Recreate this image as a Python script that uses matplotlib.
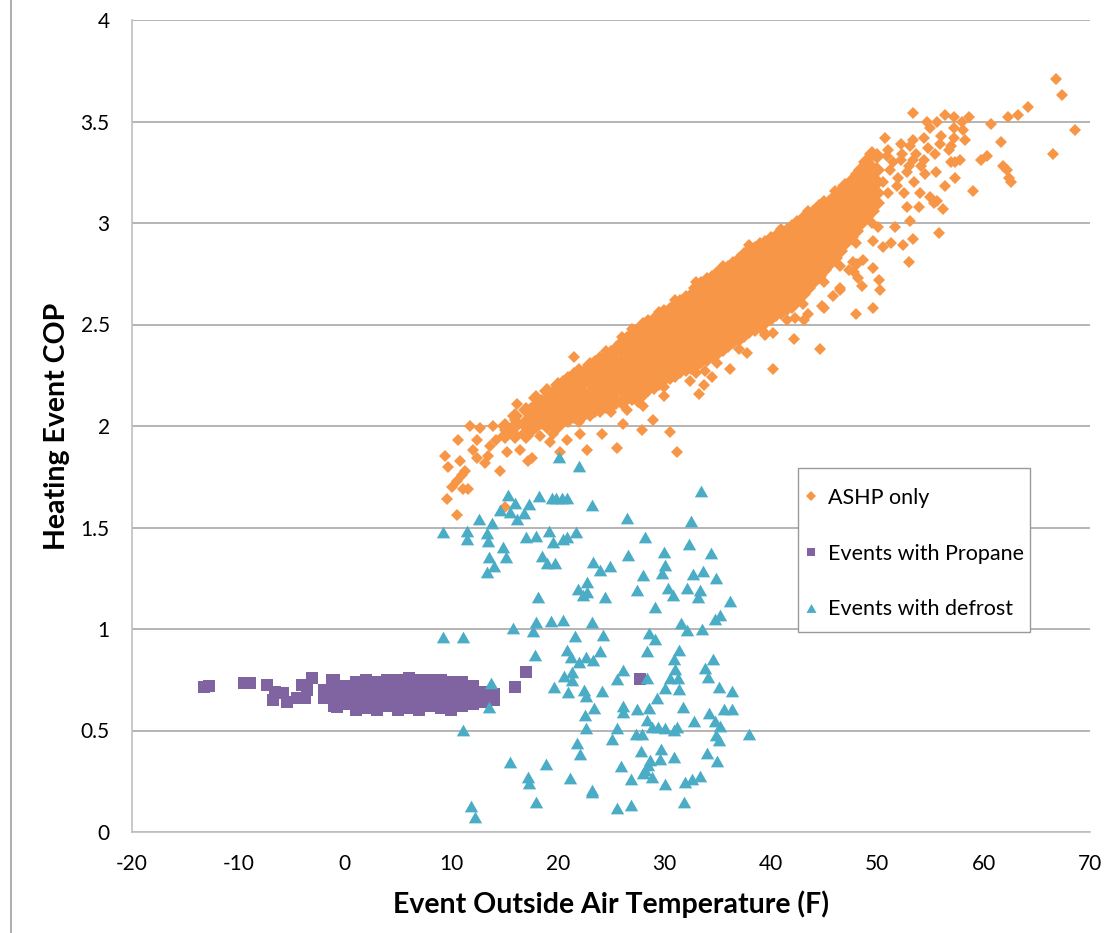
import matplotlib
matplotlib.use("Agg")
import matplotlib.pyplot as plt
from matplotlib.lines import Line2D
from matplotlib.patches import Rectangle

plt.rcParams['font.family'] = ['Lato', 'DejaVu Sans']
plt.rcParams['axes.unicode_minus'] = False

# --- data ------------------------------------------------------------------
# ASHP only: main band, (temperature, COP values stacked at that temperature)
band_columns = [
    (15, [1.95, 2.00]),
    (16, [1.95, 2.00, 2.05]),
    (17, [1.95, 2.02, 2.08]),
    (17.5, [1.98, 2.03, 2.08]),
    (18, [2.00, 2.05, 2.10, 2.14]),
    (18.5, [2.02, 2.07, 2.12]),
    (19, [2.02, 2.07, 2.12, 2.17]),
    (19.5, [2.01, 2.06, 2.11, 2.16]),
    (20, [2.00, 2.05, 2.10, 2.15, 2.20]),
    (20.5, [2.03, 2.08, 2.13, 2.18, 2.21]),
    (21, [2.03, 2.08, 2.13, 2.18, 2.23]),
    (21.5, [2.05, 2.10, 2.15, 2.20, 2.25]),
    (22, [2.04, 2.09, 2.14, 2.19, 2.24, 2.27]),
    (22.5, [2.06, 2.11, 2.16, 2.21, 2.26]),
    (23, [2.06, 2.11, 2.16, 2.21, 2.26, 2.30]),
    (23.5, [2.08, 2.13, 2.18, 2.23, 2.28, 2.31]),
    (24, [2.08, 2.13, 2.18, 2.23, 2.28, 2.33]),
    (24.5, [2.10, 2.15, 2.20, 2.25, 2.30, 2.34]),
    (25, [2.10, 2.15, 2.20, 2.25, 2.30, 2.36]),
    (25.5, [2.12, 2.17, 2.22, 2.27, 2.32, 2.38]),
    (26, [2.12, 2.17, 2.22, 2.27, 2.32, 2.37, 2.41]),
    (26.5, [2.14, 2.19, 2.24, 2.29, 2.34, 2.39, 2.43]),
    (27, [2.14, 2.19, 2.24, 2.29, 2.34, 2.39, 2.45]),
    (27.5, [2.16, 2.21, 2.26, 2.31, 2.36, 2.41, 2.47]),
    (28, [2.16, 2.21, 2.26, 2.31, 2.36, 2.41, 2.46, 2.50]),
    (28.5, [2.18, 2.23, 2.28, 2.33, 2.38, 2.43, 2.48, 2.51]),
    (29, [2.19, 2.24, 2.29, 2.34, 2.39, 2.44, 2.49, 2.52]),
    (29.5, [2.21, 2.26, 2.31, 2.36, 2.41, 2.46, 2.51, 2.54]),
    (30, [2.23, 2.28, 2.33, 2.38, 2.43, 2.48, 2.53, 2.56]),
    (30.5, [2.24, 2.29, 2.34, 2.39, 2.44, 2.49, 2.54, 2.57]),
    (31, [2.25, 2.30, 2.35, 2.40, 2.45, 2.50, 2.55, 2.59]),
    (31.5, [2.27, 2.32, 2.37, 2.42, 2.47, 2.52, 2.57, 2.61]),
    (32, [2.28, 2.33, 2.38, 2.43, 2.48, 2.53, 2.58, 2.63]),
    (32.5, [2.29, 2.34, 2.39, 2.44, 2.49, 2.54, 2.59, 2.64]),
    (33, [2.30, 2.35, 2.40, 2.45, 2.50, 2.55, 2.60, 2.65, 2.68]),
    (33.5, [2.32, 2.37, 2.42, 2.47, 2.52, 2.57, 2.62, 2.67, 2.70]),
    (34, [2.33, 2.38, 2.43, 2.48, 2.53, 2.58, 2.63, 2.68, 2.72]),
    (34.5, [2.35, 2.40, 2.45, 2.50, 2.55, 2.60, 2.65, 2.70, 2.73]),
    (35, [2.36, 2.41, 2.46, 2.51, 2.56, 2.61, 2.66, 2.71, 2.75]),
    (35.5, [2.38, 2.43, 2.48, 2.53, 2.58, 2.63, 2.68, 2.73, 2.77]),
    (36, [2.40, 2.45, 2.50, 2.55, 2.60, 2.65, 2.70, 2.75, 2.78]),
    (36.5, [2.42, 2.47, 2.52, 2.57, 2.62, 2.67, 2.72, 2.77, 2.80]),
    (37, [2.43, 2.48, 2.53, 2.58, 2.63, 2.68, 2.73, 2.78, 2.82]),
    (37.5, [2.45, 2.50, 2.55, 2.60, 2.65, 2.70, 2.75, 2.80, 2.84]),
    (38, [2.47, 2.52, 2.57, 2.62, 2.67, 2.72, 2.77, 2.82, 2.86]),
    (38.5, [2.48, 2.53, 2.58, 2.63, 2.68, 2.73, 2.78, 2.83, 2.87]),
    (39, [2.50, 2.55, 2.60, 2.65, 2.70, 2.75, 2.80, 2.85, 2.89]),
    (39.5, [2.51, 2.56, 2.61, 2.66, 2.71, 2.76, 2.81, 2.86, 2.90]),
    (40, [2.53, 2.58, 2.63, 2.68, 2.73, 2.78, 2.83, 2.88, 2.92]),
    (40.5, [2.55, 2.60, 2.65, 2.70, 2.75, 2.80, 2.85, 2.90, 2.93]),
    (41, [2.56, 2.61, 2.66, 2.71, 2.76, 2.81, 2.86, 2.91, 2.95]),
    (41.5, [2.58, 2.63, 2.68, 2.73, 2.78, 2.83, 2.88, 2.93, 2.96]),
    (42, [2.59, 2.64, 2.69, 2.74, 2.79, 2.84, 2.89, 2.94, 2.98]),
    (42.5, [2.62, 2.67, 2.72, 2.77, 2.82, 2.87, 2.92, 2.97, 3.00]),
    (43, [2.65, 2.70, 2.75, 2.80, 2.85, 2.90, 2.95, 3.00, 3.02]),
    (43.5, [2.68, 2.73, 2.78, 2.83, 2.88, 2.93, 2.98, 3.03]),
    (44, [2.71, 2.76, 2.81, 2.86, 2.91, 2.96, 3.01, 3.05]),
    (44.5, [2.74, 2.79, 2.84, 2.89, 2.94, 2.99, 3.04, 3.08]),
    (45, [2.77, 2.82, 2.87, 2.92, 2.97, 3.02, 3.07, 3.10]),
    (45.5, [2.80, 2.85, 2.90, 2.95, 3.00, 3.05, 3.10]),
    (46, [2.83, 2.88, 2.93, 2.98, 3.03, 3.08, 3.13]),
    (46.5, [2.86, 2.91, 2.96, 3.01, 3.06, 3.11, 3.15]),
    (47, [2.90, 2.95, 3.00, 3.05, 3.10, 3.15, 3.18]),
    (47.5, [2.93, 2.98, 3.03, 3.08, 3.13, 3.18, 3.20]),
    (48, [2.96, 3.01, 3.06, 3.11, 3.16, 3.21]),
    (48.5, [3.00, 3.05, 3.10, 3.15, 3.20, 3.26]),
    (49, [3.03, 3.08, 3.13, 3.18, 3.24, 3.30]),
    (49.5, [3.06, 3.11, 3.16, 3.21, 3.27, 3.34]),
    (50, [3.10, 3.15, 3.20, 3.26, 3.33]),
]

# ASHP only: scattered events around the band
ashp_scatter = [
    (9.41, 1.85), (9.72, 1.80), (9.56, 1.64), (10.03, 1.70), (10.5, 1.73),
    (10.5, 1.56), (11.13, 1.69), (11.6, 1.69), (10.82, 1.83), (11.29, 1.78),
    (10.66, 1.93), (11.76, 2.00), (12.38, 1.93), (12.38, 1.84), (12.7, 1.99),
    (13.17, 1.82), (13.48, 1.85), (13.64, 1.90), (13.89, 2.00), (14.57, 1.78),
    (15.05, 1.98), (15.2, 1.87), (15.67, 1.96), (16.14, 2.11), (16.45, 1.88),
    (16.77, 1.96), (17.24, 1.83), (17.55, 1.84), (17.39, 2.05), (18.02, 2.00),
    (18.33, 1.95), (18.65, 2.06), (19.27, 1.92), (19.59, 1.96), (19.59, 2.08),
    (20.21, 1.87), (20.84, 1.93), (22.09, 1.96), (22.72, 1.88), (24.13, 1.96),
    (25.6, 1.89), (26.16, 2.01), (27.89, 1.98), (28.98, 2.03), (30.55, 1.97),
    (31.17, 1.87), (15.05, 1.60), (11.0, 1.76), (12.0, 1.88), (14.2, 1.93),
    (16.0, 2.03), (17.0, 1.99),
    (21.5, 2.34), (32.4, 2.22), (33.7, 2.20), (33.3, 2.16), (34.5, 2.24),
    (33.8, 2.27), (36.2, 2.28), (37.8, 2.36), (40.2, 2.28), (40.2, 2.46),
    (39.3, 2.47), (42.2, 2.43), (42.3, 2.53), (43.1, 2.52), (43.5, 2.55),
    (44.6, 2.38), (44.8, 2.59), (45.0, 2.58), (45.9, 2.64), (46.5, 2.67),
    (46.5, 2.68), (47.4, 2.77), (47.7, 2.81), (47.8, 2.76), (48.0, 2.55),
    (48.1, 2.80), (48.2, 2.73), (48.6, 2.69), (48.7, 2.82), (49.6, 2.78),
    (49.6, 2.58), (50.2, 2.72), (50.3, 2.67), (49.6, 2.91), (50.1, 2.98),
    (50.6, 2.88), (51.3, 2.90), (51.7, 2.98), (52.4, 2.89), (53.0, 2.81),
    (53.4, 2.92), (53.1, 3.01), (53.9, 3.08), (52.8, 3.08), (55.3, 3.10),
    (56.2, 3.07), (55.6, 3.11), (55.8, 2.95), (28.0, 2.10), (30.0, 2.15),
    (26.5, 2.08),
    (66.8, 3.71), (67.4, 3.63), (68.6, 3.46), (66.5, 3.34), (64.2, 3.57),
    (63.2, 3.53), (62.3, 3.52), (60.7, 3.49), (61.6, 3.40), (60.3, 3.33),
    (59.8, 3.31), (61.8, 3.28), (62.2, 3.26), (62.4, 3.22), (62.6, 3.20),
    (59.0, 3.16), (53.4, 3.54), (50.7, 3.42), (56.4, 3.18), (55.5, 3.25),
    (55.0, 3.13), (54.7, 3.50), (55.6, 3.50), (56.4, 3.53), (57.2, 3.52),
    (58.6, 3.52), (58.0, 3.50), (55.0, 3.47), (57.2, 3.47), (58.1, 3.46),
    (58.3, 3.41), (56.0, 3.43), (57.2, 3.42), (53.4, 3.41), (54.4, 3.42),
    (52.2, 3.39), (53.1, 3.38), (54.8, 3.37), (55.9, 3.39), (56.8, 3.36),
    (53.7, 3.34), (55.4, 3.34), (57.8, 3.31), (56.9, 3.30), (54.4, 3.31),
    (53.4, 3.31), (52.2, 3.31), (50.9, 3.33), (51.2, 3.26), (52.8, 3.25),
    (54.1, 3.28), (50.6, 3.20), (51.9, 3.18), (57.3, 3.22), (54.5, 3.24),
    (57.3, 3.30), (56.9, 3.38), (53.0, 3.28), (53.5, 3.20), (54.0, 3.15),
    (52.0, 3.22), (52.5, 3.15), (51.5, 3.30), (51.0, 3.15), (51.0, 3.36),
    (52.3, 3.34),
    # ragged fringe on both edges of the band
    (24.5, 2.37), (26.0, 2.44), (27.0, 2.48), (29.5, 2.56), (31.0, 2.62),
    (33.0, 2.71), (35.5, 2.79), (38.0, 2.89), (41.0, 2.97), (43.5, 3.06),
    (46.0, 3.16), (48.0, 3.24), (19.0, 1.99), (22.0, 2.02), (25.0, 2.07),
    (27.5, 2.12), (30.0, 2.19), (33.0, 2.26), (35.0, 2.31), (37.0, 2.38),
    (39.5, 2.45), (41.5, 2.52), (43.0, 2.60), (45.0, 2.71), (46.5, 2.79),
    (48.0, 2.90), (49.5, 3.00),
]

# Events with propane: dense blob (temperature, COP values) plus stragglers
blob_columns = [
    (-2, [0.66, 0.70]),
    (-1, [0.62, 0.67, 0.72, 0.75]),
    (0, [0.63, 0.68, 0.72]),
    (1, [0.60, 0.65, 0.70, 0.74]),
    (2, [0.61, 0.66, 0.71, 0.75]),
    (3, [0.60, 0.64, 0.69, 0.74]),
    (4, [0.62, 0.67, 0.71, 0.75]),
    (5, [0.60, 0.65, 0.70, 0.75]),
    (6, [0.61, 0.66, 0.71, 0.76]),
    (7, [0.60, 0.65, 0.70, 0.75]),
    (8, [0.62, 0.67, 0.72, 0.75]),
    (9, [0.61, 0.66, 0.71, 0.75]),
    (10, [0.60, 0.65, 0.70, 0.74]),
    (11, [0.62, 0.67, 0.72, 0.74]),
    (12, [0.63, 0.68, 0.72]),
    (13, [0.64, 0.69]),
    (14, [0.65, 0.68]),
]
propane_scatter = [
    (-13.24, 0.716), (-12.8, 0.72), (-9.48, 0.735), (-8.9, 0.732),
    (-7.35, 0.724), (-6.72, 0.65), (-6.57, 0.69), (-5.8, 0.683),
    (-5.47, 0.642), (-4.53, 0.658), (-3.75, 0.658), (-4.06, 0.724),
    (-3.12, 0.757), (-3.6, 0.70), (-1.24, 0.749), (-1.87, 0.658),
    (-0.77, 0.617), (17.0, 0.79), (15.98, 0.716), (27.7, 0.754),
]

# Events with defrost
defrost_pts = [
    (15.36, 1.660), (18.27, 1.655), (19.43, 1.644), (19.84, 1.644),
    (20.37, 1.644), (20.84, 1.644), (23.19, 1.611), (33.43, 1.681),
    (15.99, 1.622), (17.33, 1.616), (14.58, 1.586), (15.52, 1.578),
    (16.83, 1.570), (16.14, 1.540), (12.64, 1.542), (13.79, 1.521),
    (9.25, 1.476), (11.45, 1.484), (11.45, 1.442), (13.32, 1.471),
    (13.42, 1.435), (14.89, 1.406), (15.11, 1.353), (13.54, 1.353),
    (14.01, 1.310), (13.39, 1.279), (17.02, 1.452), (17.96, 1.458),
    (19.21, 1.484), (19.53, 1.430), (20.47, 1.442), (20.84, 1.455),
    (21.72, 1.479), (18.49, 1.360), (18.96, 1.323), (19.78, 1.323),
    (26.54, 1.545), (32.52, 1.534), (28.2, 1.452), (32.37, 1.419),
    (29.99, 1.381), (26.6, 1.363), (34.37, 1.373), (30.08, 1.315),
    (29.77, 1.274), (23.35, 1.332), (23.97, 1.291), (24.91, 1.310),
    (27.98, 1.266), (32.74, 1.271), (33.62, 1.287), (34.87, 1.250),
    (22.72, 1.233), (21.94, 1.197), (22.34, 1.168), (22.72, 1.184),
    (24.44, 1.159), (27.48, 1.192), (30.39, 1.200), (30.86, 1.168),
    (32.12, 1.200), (33.37, 1.192), (33.21, 1.156), (36.19, 1.140),
    (18.18, 1.159), (29.14, 1.107), (15.83, 1.003), (17.96, 1.036),
    (17.65, 0.992), (19.37, 1.041), (20.53, 1.044), (23.19, 1.036),
    (21.62, 0.966), (24.22, 0.971), (31.55, 1.031), (32.12, 0.995),
    (33.59, 0.998), (34.78, 1.048), (35.25, 1.069), (28.61, 0.979),
    (29.14, 0.949), (9.19, 0.959), (11.13, 0.962), (17.87, 0.872),
    (20.9, 0.897), (21.22, 0.864), (23.97, 0.893), (22.03, 0.839),
    (22.66, 0.864), (23.35, 0.847), (28.36, 0.893), (31.43, 0.897),
    (30.96, 0.852), (34.62, 0.851), (26.17, 0.798), (25.6, 0.752),
    (20.62, 0.769), (21.37, 0.790), (21.31, 0.749), (31.02, 0.801),
    (30.55, 0.757), (31.33, 0.757), (33.84, 0.806), (34.15, 0.765),
    (28.36, 0.757), (13.73, 0.732), (19.68, 0.716), (20.94, 0.688),
    (22.47, 0.700), (22.66, 0.670), (24.16, 0.696), (30.08, 0.708),
    (31.43, 0.703), (35.18, 0.716), (36.41, 0.696), (29.36, 0.662),
    (13.54, 0.614), (23.44, 0.613), (26.1, 0.621), (26.1, 0.593),
    (27.42, 0.606), (28.55, 0.613), (31.8, 0.617), (34.25, 0.588),
    (35.62, 0.604), (36.41, 0.604), (22.56, 0.576), (28.36, 0.552),
    (28.86, 0.519), (29.45, 0.516), (30.08, 0.511), (30.93, 0.502),
    (31.24, 0.519), (32.84, 0.549), (34.81, 0.549), (35.25, 0.522),
    (11.13, 0.503), (22.66, 0.511), (25.6, 0.511), (27.36, 0.483),
    (27.89, 0.483), (37.97, 0.483), (25.07, 0.457), (34.87, 0.478),
    (35.19, 0.453), (21.78, 0.440), (22.09, 0.384), (27.83, 0.401),
    (29.67, 0.407), (30.93, 0.368), (34.06, 0.391), (35.0, 0.350),
    (15.52, 0.347), (18.9, 0.335), (25.95, 0.325), (28.2, 0.305),
    (28.51, 0.330), (27.98, 0.289), (28.67, 0.355), (29.61, 0.358),
    (26.89, 0.260), (28.89, 0.273), (17.18, 0.273), (17.33, 0.240),
    (21.15, 0.264), (31.96, 0.248), (32.59, 0.259), (33.37, 0.276),
    (30.08, 0.237), (23.19, 0.199), (23.25, 0.205), (17.96, 0.149),
    (25.54, 0.117), (26.89, 0.133), (31.87, 0.149), (11.82, 0.128),
    (12.23, 0.076), (20.15, 1.846), (22.02, 1.803),
]

series_labels = ["ASHP only", "Events with Propane", "Events with defrost"]
x_ticks = [-20, -10, 0, 10, 20, 30, 40, 50, 60, 70]
y_ticks = [0, 0.5, 1, 1.5, 2, 2.5, 3, 3.5, 4]

# --- unpack ------------------------------------------------------------------
band_x, band_y = [], []
for t, cops in band_columns:
    for c in cops:
        band_x.append(t)
        band_y.append(c)
ashp_x = [p[0] for p in ashp_scatter]
ashp_y = [p[1] for p in ashp_scatter]

prop_x, prop_y = [], []
for t, cops in blob_columns:
    for c in cops:
        prop_x.append(t)
        prop_y.append(c)
for t, c in propane_scatter:
    prop_x.append(t)
    prop_y.append(c)

def_x = [p[0] for p in defrost_pts]
def_y = [p[1] for p in defrost_pts]

# --- plot --------------------------------------------------------------------
W, H = 1107, 933
fig = plt.figure(figsize=(W / 100, H / 100), dpi=100)
ax = fig.add_axes([132 / W, 101 / H, 958 / W, 812 / H])

orange = '#F79646'
tri = [(-1, -0.88), (1, -0.88), (0, 0.88)]
# dense band drawn with slightly larger diamonds so it reads as solid
ax.plot(band_x, band_y, linestyle='none', marker='D', ms=8.3,
        color=orange, mew=0, zorder=3)
ax.plot(ashp_x, ashp_y, linestyle='none', marker='D', ms=6.2,
        color=orange, mew=0, label=series_labels[0], zorder=3)
ax.plot(prop_x, prop_y, linestyle='none', marker='s', ms=8.4,
        color='#8064A2', mew=0, label=series_labels[1], zorder=4)
ax.plot(def_x, def_y, linestyle='none', marker=tri, ms=9.6,
        color='#4BACC6', mew=0, label=series_labels[2], zorder=5)

ax.set_xlim(-20, 70)
ax.set_ylim(0, 4)
ax.set_xticks(x_ticks)
ax.set_yticks(y_ticks)
ax.set_yticklabels([f"{v:g}" for v in y_ticks])
ax.tick_params(length=0, labelsize=15, colors='black')
ax.tick_params(axis='x', pad=16)
ax.tick_params(axis='y', pad=16)

ax.grid(axis='y', color='#A0A0A0', linewidth=1.1, zorder=0)
ax.set_axisbelow(True)
for side in ['top', 'right']:
    ax.spines[side].set_visible(False)
for side in ['left', 'bottom']:
    ax.spines[side].set_color('#BFBFBF')
    ax.spines[side].set_linewidth(1.2)

ax.set_xlabel("Event Outside Air Temperature (F)", fontsize=20.5,
              fontweight='bold', labelpad=12)
ax.set_ylabel("Heating Event COP", fontsize=20.5, fontweight='bold',
              labelpad=8)

# legend box drawn as a white panel with a grey frame
box = Rectangle((798 / W, (H - 632) / H), 232 / W, 164 / H,
                transform=fig.transFigure, facecolor='white',
                edgecolor='#9A9A9A', linewidth=1.0, zorder=6, clip_on=False)
ax.add_patch(box)
leg = ax.legend(loc='upper left', bbox_to_anchor=(805 / W, (H - 488) / H),
                bbox_transform=fig.transFigure, fontsize=15.5, frameon=False,
                markerscale=0.75, handlelength=0.6, handletextpad=0.45,
                labelspacing=1.65, borderpad=0, borderaxespad=0)
leg.set_zorder(7)

# thin page-edge line on the far left of the reference
fig.add_artist(Line2D([11 / W, 11 / W], [0, 1], color='#A0A0A0',
                      linewidth=1.2))

fig.savefig("out.png", dpi=100)
